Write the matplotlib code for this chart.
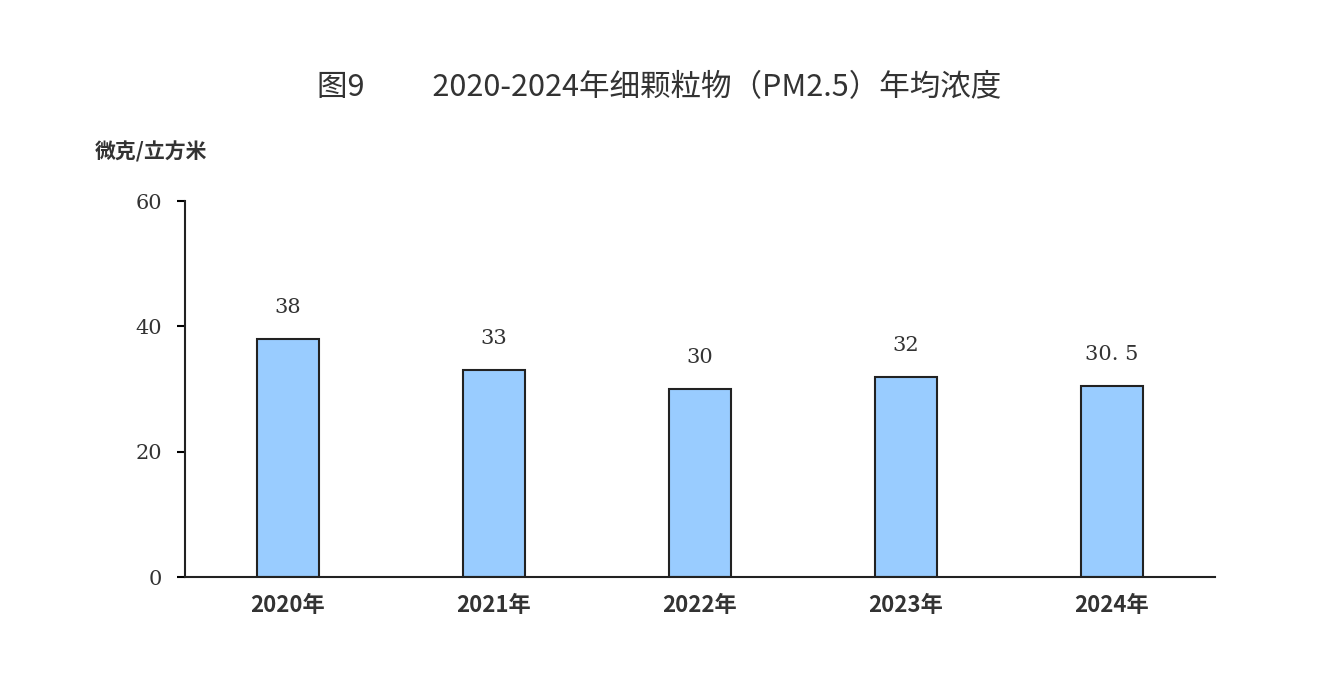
import matplotlib.pyplot as plt

cjk = ["Noto Sans CJK SC", "Noto Sans CJK JP", "Noto Sans CJK TC", "Noto Sans CJK KR", "DejaVu Sans"]
plt.rcParams["font.family"] = "sans-serif"
plt.rcParams["font.sans-serif"] = cjk

years = ["2020年", "2021年", "2022年", "2023年", "2024年"]
pm25 = [38, 33, 30, 32, 30.5]
value_labels = ["38", "33", "30", "32", "30. 5"]

fig = plt.figure(figsize=(13.19, 6.77), dpi=100)
ax = fig.add_axes([0.140, 0.1477, 0.781, 0.5553])

x = range(len(years))
ax.bar(x, pm25, width=0.30, color="#99CCFF", edgecolor="#222222", linewidth=1.5)
for i, v in enumerate(pm25):
    ax.text(i, v + 3.5, value_labels[i], ha="center", va="bottom",
            fontsize=15, color="#333333", family="DejaVu Serif")

ax.set_xlim(-0.5, 4.5)
ax.set_ylim(0, 60)
ax.set_yticks([0, 20, 40, 60])
ax.set_yticklabels(["0", "20", "40", "60"], family="DejaVu Serif", fontsize=15, color="#333333")
ax.set_xticks(list(x))
ax.set_xticklabels(years, fontsize=16, fontweight="bold", color="#333333")
ax.tick_params(axis="x", length=0, pad=12)
ax.tick_params(axis="y", direction="out", length=6, width=1.5, pad=10)
for s in ["top", "right"]:
    ax.spines[s].set_visible(False)
for s in ["left", "bottom"]:
    ax.spines[s].set_linewidth(1.5)
    ax.spines[s].set_color("#222222")

fig.text(0.5, 0.87, "图9\u3000\u3000 2020-2024年细颗粒物（PM2.5）年均浓度",
         ha="center", va="center", fontsize=22, color="#333333")
fig.text(0.072, 0.775, "微克/立方米", ha="left", va="center",
         fontsize=15, fontweight="bold", color="#333333")

fig.savefig("out.png", dpi=100)
